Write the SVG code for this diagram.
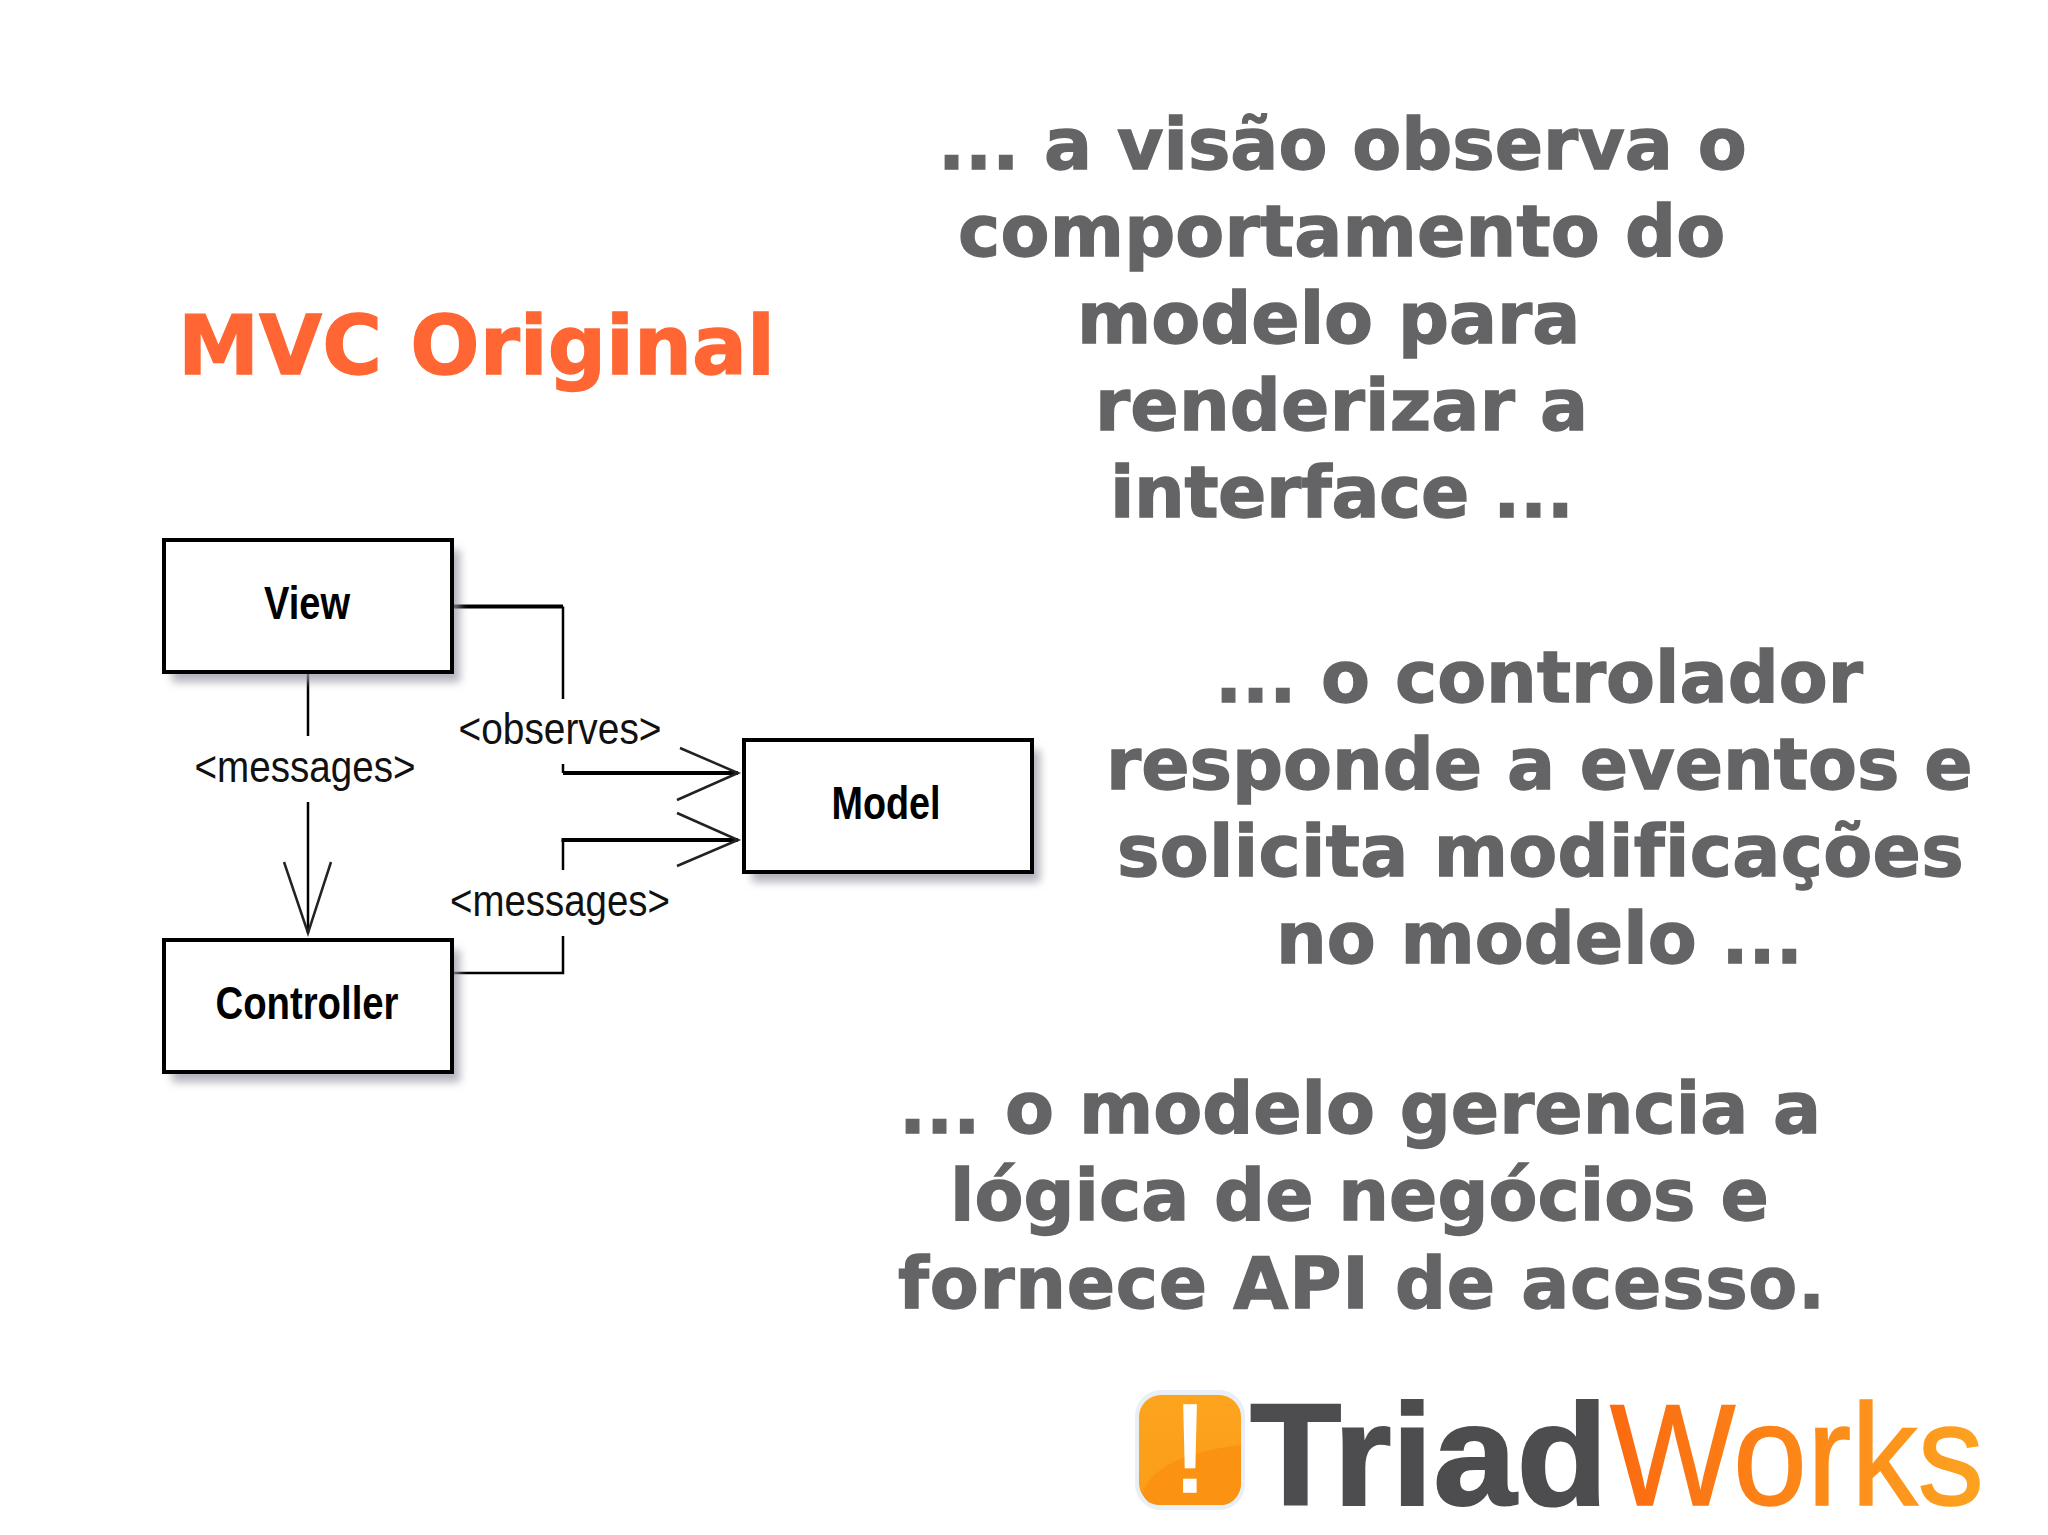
<svg xmlns="http://www.w3.org/2000/svg" width="2048" height="1535" viewBox="0 0 2048 1535">
<style>
.t{font-family:"DejaVu Sans",Verdana,sans-serif;font-weight:700;font-size:71.3px;fill:#646365;stroke:#646365;stroke-width:1.3px;font-variant-ligatures:none}
.h{font-family:"DejaVu Sans",Verdana,sans-serif;font-weight:700;font-size:81.5px;fill:#ff6633;stroke:#ff6633;stroke-width:1.3px}
.box{fill:#fff;stroke:#000;stroke-width:4}
.sh{fill:#9a9aa6;fill-opacity:.75;filter:url(#b)}
.n{font-family:"Liberation Sans",Arial,sans-serif;font-weight:700;font-size:46px;fill:#000}
.l{font-family:"Liberation Sans",Arial,sans-serif;font-size:44px;fill:#111}
.c{fill:none;stroke:#000;stroke-width:2.5}
.d{fill:none;stroke:#000;stroke-width:4}
.a{fill:none;stroke:#222;stroke-width:2.5}
.lg{font-family:"Liberation Sans",Arial,sans-serif;font-size:144px}
</style>
<defs>
<filter id="b" x="-20%" y="-20%" width="140%" height="140%"><feGaussianBlur stdDeviation="4"/></filter>
<linearGradient id="w" x1="0" x2="1" y1="0" y2="0"><stop offset="0" stop-color="#fb6a10"/><stop offset="1" stop-color="#fda320"/></linearGradient>
<linearGradient id="i" x1="0" x2="0" y1="0" y2="1"><stop offset="0" stop-color="#fda41e"/><stop offset="1" stop-color="#fb9c18"/></linearGradient>
</defs>
<rect width="2048" height="1535" fill="#fff"/>
<text class="h" x="178" y="374">MVC Original</text>
<g id="text1">
<text class="t" x="938" y="169">... a visão observa o</text>
<text class="t" x="958" y="256" letter-spacing="0.2">comportamento do</text>
<text class="t" x="1077" y="343">modelo para</text>
<text class="t" x="1095" y="430" letter-spacing="0.2">renderizar a</text>
<text class="t" x="1110" y="517" letter-spacing="-0.4">interface ...</text>
</g>
<g id="text2">
<text class="t" x="1215" y="702">... o controlador</text>
<text class="t" x="1106" y="789">responde a eventos e</text>
<text class="t" x="1117" y="876" letter-spacing="0.3">solicita modificações</text>
<text class="t" x="1276" y="963">no modelo ...</text>
</g>
<g id="text3">
<text class="t" x="899" y="1133">... o modelo gerencia a</text>
<text class="t" x="950" y="1220">lógica de negócios e</text>
<text class="t" x="898" y="1308" letter-spacing="0.7">fornece API de acesso.</text>
</g>
<g id="connectors">
<path class="d" d="M452 606.500H563"/>
<path class="c" d="M563 606.500V699"/>
<path class="c" d="M563 764V773"/>
<path class="d" d="M563 773H738"/>
<path class="a" d="M680 748L738 773L677 800"/>
<path class="c" d="M563 870V840"/>
<path class="d" d="M561.500 840H738"/>
<path class="a" d="M677 813L738 840L677 866"/>
<path class="c" d="M563 936V973H452"/>
<path class="c" d="M308 672V736"/>
<path class="c" d="M308 802V933"/>
<path class="a" d="M284 862L308 933L331 862"/>
<text class="l" x="305" y="782" text-anchor="middle" textLength="221" lengthAdjust="spacingAndGlyphs">&lt;messages&gt;</text>
<text class="l" x="560" y="744" text-anchor="middle" textLength="203" lengthAdjust="spacingAndGlyphs">&lt;observes&gt;</text>
<text class="l" x="560" y="916" text-anchor="middle" textLength="220" lengthAdjust="spacingAndGlyphs">&lt;messages&gt;</text>
</g>
<g id="view">
<rect class="sh" x="172" y="550" width="288" height="132"/>
<rect class="box" x="164" y="540" width="288" height="132"/>
<text class="n" x="307" y="619" text-anchor="middle" textLength="86" lengthAdjust="spacingAndGlyphs">View</text>
</g>
<g id="controller">
<rect class="sh" x="172" y="950" width="288" height="132"/>
<rect class="box" x="164" y="940" width="288" height="132"/>
<text class="n" x="307" y="1019" text-anchor="middle" textLength="183" lengthAdjust="spacingAndGlyphs">Controller</text>
</g>
<g id="model">
<rect class="sh" x="752" y="750" width="288" height="132"/>
<rect class="box" x="744" y="740" width="288" height="132"/>
<text class="n" x="886" y="819" text-anchor="middle" textLength="109" lengthAdjust="spacingAndGlyphs">Model</text>
</g>
<g id="logo">
<rect x="1135" y="1390" width="110" height="120" rx="26" fill="#e8eff6"/>
<rect x="1139" y="1395" width="102" height="110" rx="22" fill="url(#i)"/>
<path d="M1143 1493C1150 1470 1180 1452 1241 1445V1483C1241 1495 1232 1505 1222 1505H1160C1150 1505 1144 1500 1143 1493Z" fill="#fb9212"/>
<text x="1190" y="1492" text-anchor="middle" font-family="Liberation Sans,Arial,sans-serif" font-size="126" fill="#fff" stroke="#fff" stroke-width="1.500">!</text>
<text class="lg" x="1250" y="1505" font-weight="700" fill="#4d4c4e" stroke="#4d4c4e" stroke-width="2" textLength="358" lengthAdjust="spacingAndGlyphs">Triad</text>
<text class="lg" x="1610" y="1505" fill="url(#w)" stroke="url(#w)" stroke-width="1.500" textLength="374" lengthAdjust="spacingAndGlyphs">Works</text>
</g>
</svg>
